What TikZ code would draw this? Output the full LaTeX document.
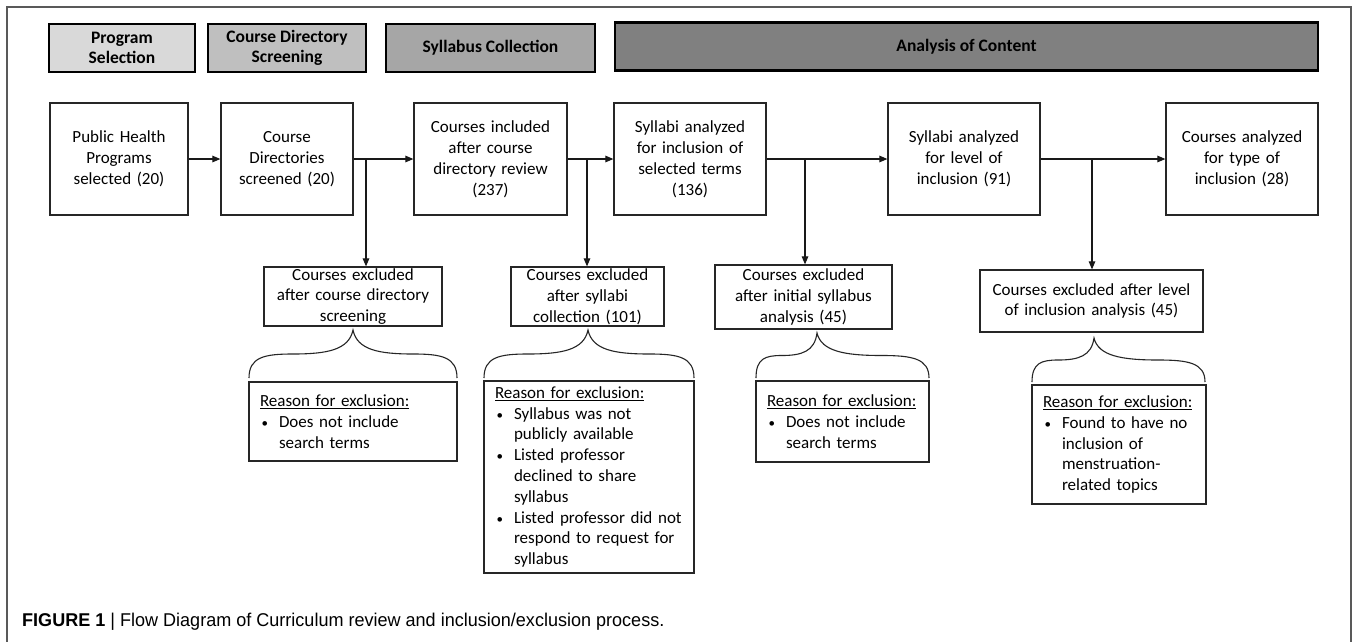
\documentclass[tikz,border=0pt]{standalone}
\usepackage{fontspec}
\usepackage{graphicx}
\setmainfont{Carlito}
\newfontfamily\capfont{Liberation Sans}
\usetikzlibrary{arrows.meta}
\definecolor{hA}{HTML}{D9D9D9}
\definecolor{hB}{HTML}{BFBFBF}
\definecolor{hC}{HTML}{A6A6A6}
\definecolor{hD}{HTML}{808080}
\newcommand{\bul}{\makebox[19pt][l]{\hspace{1.5pt}{\fontsize{13}{13}\selectfont\textbullet}}}
\newcommand{\ind}{\hspace*{19pt}}
\newcommand{\mybrace}[5]{% L T R yt yb
  \draw[bracestyle] (#1,#5)
    .. controls (#1,{(#4+#5)/2+3}) and ({#1+0.15*(#2-#1)},{(#4+#5)/2}) .. ({#1+0.42*(#2-#1)},{(#4+#5)/2})
    .. controls ({#2-0.25*(#2-#1)},{(#4+#5)/2}) and ({#2-0.04*(#2-#1)},{(#4+#5)/2-4}) .. (#2,#4)
    .. controls ({#2+0.04*(#3-#2)},{(#4+#5)/2-4}) and ({#2+0.25*(#3-#2)},{(#4+#5)/2}) .. ({#3-0.42*(#3-#2)},{(#4+#5)/2})
    .. controls ({#3-0.15*(#3-#2)},{(#4+#5)/2}) and (#3,{(#4+#5)/2+3}) .. (#3,#5);}
\begin{document}
\begin{tikzpicture}[x=1pt,y=-1pt,
  hdr/.style={draw=black, line width=2.2pt, minimum height=48pt, inner sep=0pt, align=center,
    font=\fontsize{17.5}{20}\selectfont\bfseries},
  flow/.style={draw=black!85, line width=1.2pt, minimum height=112pt, inner sep=0pt, align=center,
    font=\fontsize{17}{21}\selectfont},
  excl/.style={draw=black!85, line width=1.2pt, inner sep=0pt, align=center,
    font=\fontsize{17}{20.8}\selectfont},
  reason/.style={draw=black!85, line width=1.2pt, inner xsep=11pt, inner ysep=0pt, align=left,
    font=\fontsize{17}{20.8}\selectfont},
  arr/.style={line width=1.1pt, black!90, -{Triangle[length=8pt,width=6.5pt]}},
  bracestyle/.style={line width=1.1pt, black!85},
  frame/.style={line width=1.3pt, black!65}]
\fill[white] (0,0) rectangle (1357,641);
\useasboundingbox (0,0) rectangle (1357,641);
\draw[frame] (7,645) -- (7,7) -- (1351,7) -- (1351,645);

% header boxes
\node[hdr, fill=hA, minimum width=146pt] (H1) at (122,48) {Program\\Selection};
\node[hdr, fill=hB, minimum width=158pt] (H2) at (287,48) {Course Directory\\Screening};
\node[hdr, fill=hC, minimum width=209pt] (H3) at (490.5,48) {Syllabus Collection};
\node[hdr, fill=hD, minimum width=703pt] (H4) at (966.5,46.5) {Analysis of Content};

% flow boxes
\node[flow, minimum width=138pt, text width=132pt] (B1) at (119,159) {Public Health\\Programs\\selected (20)};
\node[flow, minimum width=132pt, text width=126pt] (B2) at (287,159) {Course\\Directories\\screened (20)};
\node[flow, minimum width=153pt, text width=147pt] (B3) at (490.5,159) {Courses included\\after course\\directory review\\(237)};
\node[flow, minimum width=152pt, text width=146pt] (B4) at (690,159) {Syllabi analyzed\\for inclusion of\\selected terms\\(136)};
\node[flow, minimum width=152pt, text width=146pt] (B5) at (964,159) {Syllabi analyzed\\for level of\\inclusion (91)};
\node[flow, minimum width=152pt, text width=146pt] (B6) at (1242,159) {Courses analyzed\\for type of\\inclusion (28)};

% exclusion boxes
\node[excl, minimum width=178pt, minimum height=59pt, text width=174pt] (E1) at (353,296.5) {Courses excluded\\after course directory\\screening};
\node[excl, minimum width=153pt, minimum height=59pt, text width=149pt] (E2) at (587.5,296.5) {Courses excluded\\after syllabi\\collection (101)};
\node[excl, minimum width=177pt, minimum height=64pt, text width=173pt] (E3) at (803.5,297) {Courses excluded\\after initial syllabus\\analysis (45)};
\node[excl, minimum width=223pt, minimum height=62pt, text width=219pt] (E4) at (1091.5,301) {Courses excluded after level\\of inclusion analysis (45)};

% junctions
\coordinate (j1) at (366,159);
\coordinate (j2) at (587,159);
\coordinate (j3) at (805,159);
\coordinate (j4) at (1092,159);

% arrows
\draw[arr] (B1.east) -- (B2.west);
\draw[arr] (B2.east) -- (B3.west);
\draw[arr] (B3.east) -- (B4.west);
\draw[arr] (B4.east) -- (B5.west);
\draw[arr] (B5.east) -- (B6.west);
\draw[arr] (j1) -- (j1 |- E1.north);
\draw[arr] (j2) -- (j2 |- E2.north);
\draw[arr] (j3) -- (j3 |- E3.north);
\draw[arr] (j4) -- (j4 |- E4.north);

% braces
\mybrace{249}{353}{457}{330}{378}
\mybrace{484}{588}{694}{330}{378}
\mybrace{756}{817}{929}{333}{378}
\mybrace{1032}{1094}{1205}{338}{382}

% reason boxes
\node[reason, minimum width=208pt, minimum height=79pt, text width=186pt] (R1) at (353,421.5)
  {\underline{Reason for exclusion:}\\\bul Does not include\\\ind search terms};
\node[reason, minimum width=210pt, minimum height=192pt, text width=188pt] (R2) at (589,477)
  {\underline{Reason for exclusion:}\\\bul Syllabus was not\\\ind publicly available\\\bul Listed professor\\\ind declined to share\\\ind syllabus\\\bul Listed professor did not\\\ind respond to request for\\\ind syllabus};
\node[reason, minimum width=173pt, minimum height=81pt, text width=151pt] (R3) at (842.5,421.5)
  {\underline{Reason for exclusion:}\\\bul Does not include\\\ind search terms};
\node[reason, minimum width=174pt, minimum height=119pt, text width=152pt] (R4) at (1119,444.5)
  {\underline{Reason for exclusion:}\\\bul Found to have no\\\ind inclusion of\\\ind menstruation-\\\ind related topics};

% caption
\node[anchor=west, inner sep=0pt, font=\capfont\fontsize{18.5}{20}\selectfont] (cap) at (22,622)
  {\scalebox{0.975}[1]{\textbf{FIGURE 1} | Flow Diagram of Curriculum review and inclusion/exclusion process.}};
\end{tikzpicture}
\end{document}
